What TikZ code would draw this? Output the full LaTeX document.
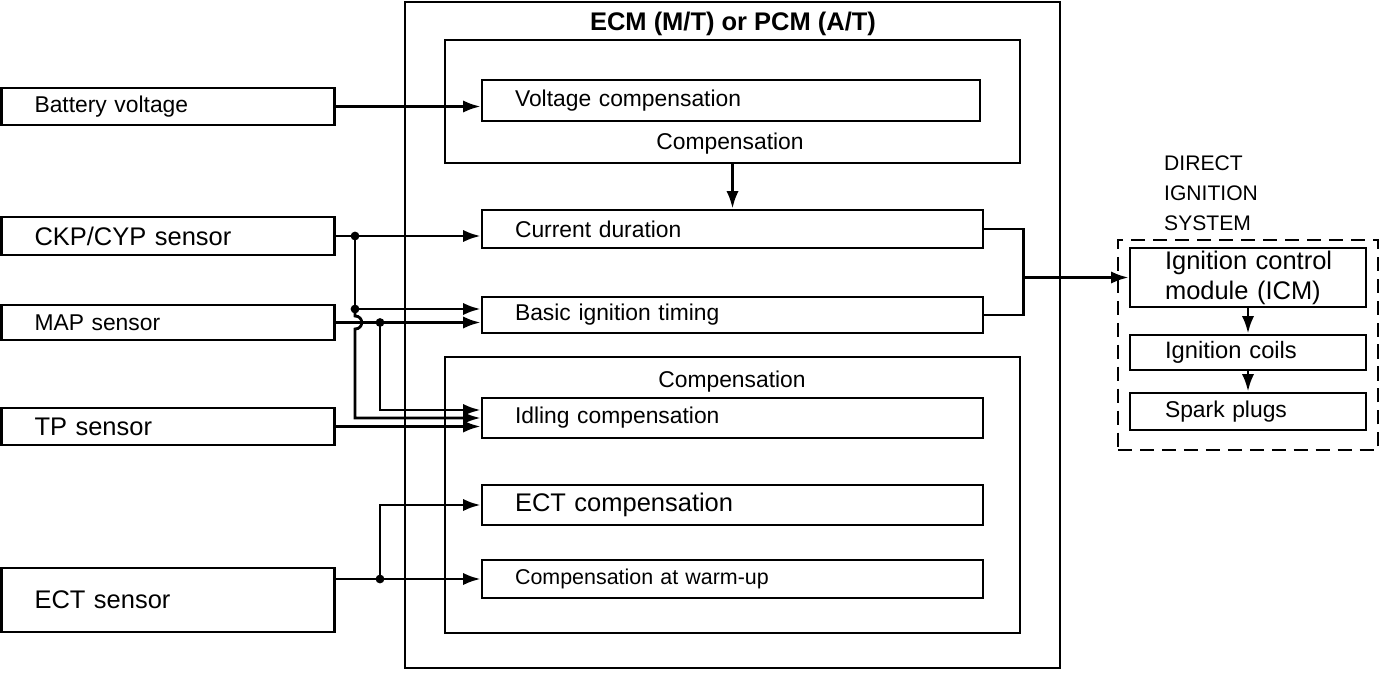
\documentclass[tikz,border=0pt]{standalone}
\usepackage{fontspec}
\setmainfont{Liberation Sans}
\usepackage{tikz}
\usetikzlibrary{arrows.meta, calc, positioning}

\newcommand{\smfont}{\fontsize{13}{15}\selectfont}
\newcommand{\lgfont}{\fontsize{14.5}{17}\selectfont}

\begin{document}
\begin{tikzpicture}[x=0.02cm, y=-0.02cm, >={Latex[length=10pt,width=7pt]},
    blk/.style={draw, line width=1.6pt, inner ysep=0pt, align=left},
    sensorbox/.style={blk, inner xsep=0.66cm, text width=5.34cm, font=\smfont},
    ecmbox/.style={blk, inner xsep=0.66cm, text width=8.7cm, font=\smfont},
    disbox/.style={blk, inner xsep=0.7cm, text width=3.32cm, font=\smfont},
    cmpframe/.style={draw, line width=1.6pt},
    wire/.style={line width=1.6pt},
    jdot/.style={fill, circle, inner sep=0pt, minimum size=5pt}]
    \useasboundingbox (0,0) rectangle (1392,676);

    % ECM / PCM frame
    \node[draw, line width=1.3pt, minimum width=13.1cm, minimum height=13.32cm] (ecm) at (732.5,335) {};
    \node[font=\lgfont\bfseries] (ttl) at (733,24) {ECM (M/T) or PCM (A/T)};
    \node[cmpframe, minimum width=11.5cm, minimum height=2.46cm] (upc) at (732.5,101.5) {};
    \node[cmpframe, minimum width=11.5cm, minimum height=5.52cm] (loc) at (732.5,495) {};
    \node[font=\smfont] (upclbl) at (730,144) {Compensation};
    \node[font=\smfont] (loclbl) at (732,382) {Compensation};

    % Inputs
    \node[sensorbox, minimum height=0.74cm] (batt) at (168,106.5) {Battery voltage};
    \node[sensorbox, minimum height=0.76cm, font=\lgfont] (ckp) at (168,236) {CKP/CYP sensor};
    \node[sensorbox, minimum height=0.7cm] (map) at (168,322.5) {MAP sensor};
    \node[sensorbox, minimum height=0.74cm, font=\lgfont] (tp) at (168,426.5) {TP sensor};
    \node[sensorbox, minimum height=1.28cm, font=\lgfont] (ects) at (168,600) {ECT sensor};

    % Control blocks
    \node[ecmbox, minimum height=0.82cm, text width=8.64cm] (volt) at (731,100.5) {Voltage compensation};
    \node[ecmbox, minimum height=0.76cm] (cur) at (732.5,229) {Current duration};
    \node[ecmbox, minimum height=0.72cm] (bas) at (732.5,315) {Basic ignition timing};
    \node[ecmbox, minimum height=0.8cm] (idl) at (732.5,418) {Idling compensation};
    \node[ecmbox, minimum height=0.8cm, font=\lgfont] (ectc) at (732.5,505) {ECT compensation};
    \node[ecmbox, minimum height=0.76cm, font=\fontsize{12.2}{14}\selectfont] (wrm) at (732.5,579) {Compensation at warm-up};

    % Direct ignition system
    \node[draw, line width=1.5pt, dash pattern=on 8pt off 4.5pt, minimum width=5.2cm, minimum height=4.2cm] (dis) at (1248,345) {};
    \node[align=left, anchor=west, font=\fontsize{12}{17}\selectfont] (dislbl) at (1158,193) {DIRECT\\IGNITION\\SYSTEM};
    \node[disbox, minimum height=1.18cm, font=\fontsize{14.5}{17}\selectfont] (icm) at (1248,277.5) {\mbox{Ignition control}\\\mbox{module (ICM)}};
    \node[disbox, minimum height=0.7cm, font=\fontsize{13.5}{15}\selectfont] (coil) at (1248,352.5) {Ignition coils};
    \node[disbox, minimum height=0.74cm] (spk) at (1248,411.5) {Spark plugs};

    % Junctions
    \coordinate (jckp) at (355,236);
    \coordinate (bckp) at (355,309);
    \coordinate (jmap) at (380,322.5);
    \coordinate (ject) at (380,579);

    % Wiring
    \draw[wire,->] (batt.east) -- (batt.east -| volt.west);
    \draw[wire,->] (upc.south) -- (cur.north);
    \draw[wire,->] (ckp.east) -- (ckp.east -| cur.west);
    \draw[wire,->] (jckp) |- ($(bas.west)+(0,-6)$);
    \draw[wire,->] (map.east) -- (map.east -| bas.west);
    \draw[wire,->] (bckp) -- (355,316) .. controls (364,316) and (364,329) .. (355,329) |- (idl.west);
    \draw[wire,->] (jmap) |- ($(idl.west)+(0,-8)$);
    \draw[wire,->] (tp.east) -- (tp.east -| idl.west);
    \draw[wire,->] (ects.east |- wrm.west) -- (wrm.west);
    \draw[wire,->] (ject) |- (ectc.west);
    \foreach \j in {jckp, bckp, jmap, ject}
        \node[jdot] at (\j) {};

    % Output to ICM
    \draw[wire] (cur.east) -- ++(39,0) coordinate (mrg) |- (bas.east);
    \draw[wire,->] (mrg |- icm.west) -- (icm.west);
    \draw[wire,->] (icm.south) -- (coil.north);
    \draw[wire,->] (coil.south) -- (spk.north);
\end{tikzpicture}
\end{document}
